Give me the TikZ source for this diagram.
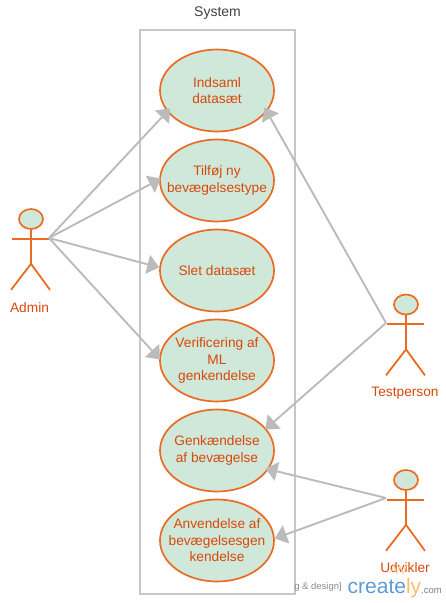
\documentclass[tikz,border=0pt]{standalone}
\usepackage{fontspec}
\setmainfont{Liberation Sans}
\usetikzlibrary{arrows.meta,shapes.geometric}
\definecolor{edgeor}{HTML}{EA6B21}
\definecolor{textor}{HTML}{D8480A}
\definecolor{fillgr}{HTML}{CFE8D9}
\definecolor{linegr}{HTML}{BBBBBB}
\definecolor{logobl}{HTML}{5B9BD5}
\definecolor{logoor}{HTML}{F7BE6D}
\tikzset{
  usecase/.style={ellipse,draw=edgeor,fill=fillgr,line width=1.7pt,minimum width=114pt,minimum height=82pt,inner xsep=-35pt,inner ysep=-20pt,align=center,text=textor,font=\fontsize{13.7}{16.5}\selectfont},
  head/.style={ellipse,draw=edgeor,fill=fillgr,line width=1.7pt,minimum width=24pt,minimum height=20pt,inner sep=0pt},
  limb/.style={draw=edgeor,line width=1.8pt},
  actorlabel/.style={text=textor,font=\fontsize{13.7}{16.5}\selectfont,inner sep=0pt},
  assoc/.style={draw=linegr,line width=1.9pt,-{Triangle[length=12pt,width=19pt,fill=linegr]}},
}
\newcommand{\stickman}[3]{% name, x, y of head centre
  \node[head] (#1) at (#2,#3) {};
  \draw[limb] (#1.south) -- ++(0,34) coordinate (#1hip);
  \draw[limb] ([yshift=-9pt]#1.south) ++(-19,0) -- ++(37,0) coordinate (#1hand);
  \draw[limb] (#1hip) -- ++(-20,26);
  \draw[limb] (#1hip) -- ++(19,26);
}
\begin{document}
\begin{tikzpicture}[x=1pt,y=-1pt]
\useasboundingbox (0,0) rectangle (446,603);
\node[draw=black!22,line width=1.8pt,minimum width=155pt,minimum height=564pt,inner sep=0pt] (sys) at (217.5,312) {};
\node[text=black!75,font=\fontsize{14}{16}\selectfont,inner sep=0pt] (systitle) at (217.5,13) {System};

\node[usecase] (u1) at (217,90.5) {Indsaml\\datasæt};
\node[usecase] (u2) at (217,180.5) {Tilføj ny\\bevægelsestype};
\node[usecase] (u3) at (217,270.5) {Slet datasæt};
\node[usecase] (u4) at (217,360.5) {Verificering af\\ML\\genkendelse};
\node[usecase] (u5) at (217,450.5) {Genkændelse\\af bevægelse};
\node[usecase] (u6) at (217,540.5) {Anvendelse af\\bevægelsesgen\\kendelse};

\stickman{adm}{31}{219}
\stickman{tst}{406}{304.5}
\stickman{udv}{406}{480}
\node[actorlabel] (admlbl) at (29.5,308) {Admin};
\node[actorlabel] (tstlbl) at (405,393) {Testperson};
\node[actorlabel] (udvlbl) at (405,568) {Udvikler};
\coordinate (admr) at (49,238);
\coordinate (tstl) at (386,323);
\coordinate (udvl) at (386,498);

\draw[assoc,shorten >=-4.5pt] (admr) -- (u1.203);
\draw[assoc,shorten >=-1.9pt] (admr) -- (u2.179.4);
\draw[assoc] (admr) -- (u3.177.5);
\draw[assoc,shorten >=-1.3pt] (admr) -- (u4.178.5);
\draw[assoc,shorten >=-4.8pt] (tstl) -- (u1.-23.7);
\draw[assoc,shorten >=-1.4pt] (tstl) -- (u5.24.7);
\draw[assoc,shorten >=-3.4pt] (udvl) -- (u5.-20.9);
\draw[assoc] (udvl) -- (u6.2.8);

\draw[logoor!60,line width=0.8pt] (391,572) -- (394,566) -- (397,574) -- (400,566) -- (403,574) -- (406,566);
\node[text=black!45,font=\fontsize{9.5}{11}\selectfont,anchor=east,inner sep=0pt] (wm) at (342,587) {g \& design]};
\node[anchor=base west,inner sep=0pt,font=\fontsize{21}{24}\selectfont] (logo) at (347.5,593) {\textcolor{logobl}{create}\textcolor{logoor}{ly}\textcolor{black!50}{\fontsize{9.5}{11}\selectfont.com}};
\end{tikzpicture}
\end{document}
